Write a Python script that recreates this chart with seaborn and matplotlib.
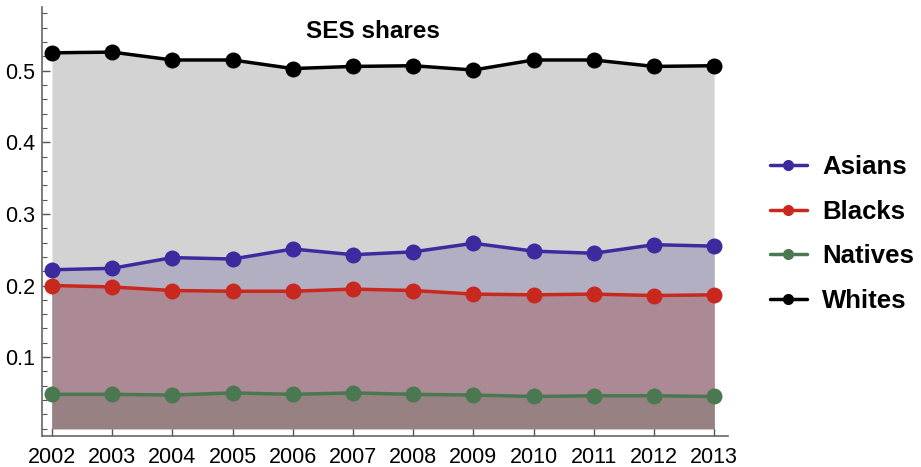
import pandas as pd
import numpy as np
import seaborn as sns
import matplotlib.pyplot as plt
from matplotlib.ticker import MultipleLocator

years = list(range(2002, 2014))
whites = [0.525, 0.526, 0.515, 0.515, 0.503, 0.506, 0.507, 0.501, 0.515, 0.515, 0.506, 0.507]
asians = [0.222, 0.224, 0.239, 0.237, 0.251, 0.243, 0.247, 0.259, 0.248, 0.245, 0.257, 0.255]
blacks = [0.200, 0.198, 0.193, 0.192, 0.192, 0.195, 0.193, 0.188, 0.187, 0.188, 0.186, 0.187]
natives = [0.048, 0.048, 0.047, 0.050, 0.048, 0.050, 0.048, 0.047, 0.045, 0.046, 0.046, 0.045]

groups = ['Asians', 'Blacks', 'Natives', 'Whites']
line_colors = ['#3c2a9e', '#c9281e', '#4a7850', '#000000']
fill_colors = {'Whites': '#d3d3d3', 'Asians': '#b3afc3', 'Blacks': '#ab8a95', 'Natives': '#978182'}

df = pd.DataFrame({'year': years * 4,
                   'share': asians + blacks + natives + whites,
                   'group': sum([[g] * len(years) for g in groups], [])})

sns.set_style('ticks')
plt.rcParams['font.family'] = ['Liberation Sans', 'DejaVu Sans']
plt.rcParams['text.color'] = 'black'
plt.rcParams['xtick.labelcolor'] = 'black'
plt.rcParams['ytick.labelcolor'] = 'black'

fig = plt.figure(figsize=(9.21, 4.67), dpi=100)
ax = fig.add_axes([41.7 / 921, 31 / 467, (728 - 41.7) / 921, (460 - 31) / 467])

# layered fills down to the axis, biggest first
for g, vals in [('Whites', whites), ('Asians', asians), ('Blacks', blacks), ('Natives', natives)]:
    ax.fill_between(years, 0, vals, color=fill_colors[g], lw=0, zorder=1)

sns.lineplot(data=df, x='year', y='share', hue='group', hue_order=groups,
             palette=line_colors, marker='o', markersize=11.5, markeredgewidth=0,
             linewidth=2.5, ax=ax, zorder=3)

ax.set_xlim(2001.83, 2013.23)
ax.set_ylim(-0.0102, 0.589)
ax.set_xticks(years)
ax.yaxis.set_major_locator(MultipleLocator(0.1))
ax.yaxis.set_minor_locator(MultipleLocator(0.02))
ax.set_yticks([0.1, 0.2, 0.3, 0.4, 0.5])
ax.tick_params(axis='both', which='major', direction='in', length=6, width=1, color='#555555', labelsize=15.5)
ax.tick_params(axis='y', which='minor', direction='in', length=3.5, width=0.8, color='#555555')
ax.tick_params(axis='x', pad=8)
ax.tick_params(axis='y', pad=5)
for s in ['top', 'right']:
    ax.spines[s].set_visible(False)
for s in ['left', 'bottom']:
    ax.spines[s].set_color('#666666')
    ax.spines[s].set_linewidth(1.2)
ax.set_xlabel('')
ax.set_ylabel('')

fig.text(373 / 921, 1 - 31 / 467, 'SES shares', ha='center', va='center',
         fontsize=17.5, fontweight='bold', color='black')

handles, labels = ax.get_legend_handles_labels()
for h in handles:
    h.set_markersize(8)
leg = ax.legend(handles, labels, loc='center left', bbox_to_anchor=(1.061, 0.471),
                frameon=False, prop={'weight': 'bold', 'size': 18.5},
                handlelength=1.45, handletextpad=0.58, labelspacing=0.8,
                borderaxespad=0, borderpad=0)
for t in leg.get_texts():
    t.set_color('black')

plt.savefig('out.png', dpi=100)
